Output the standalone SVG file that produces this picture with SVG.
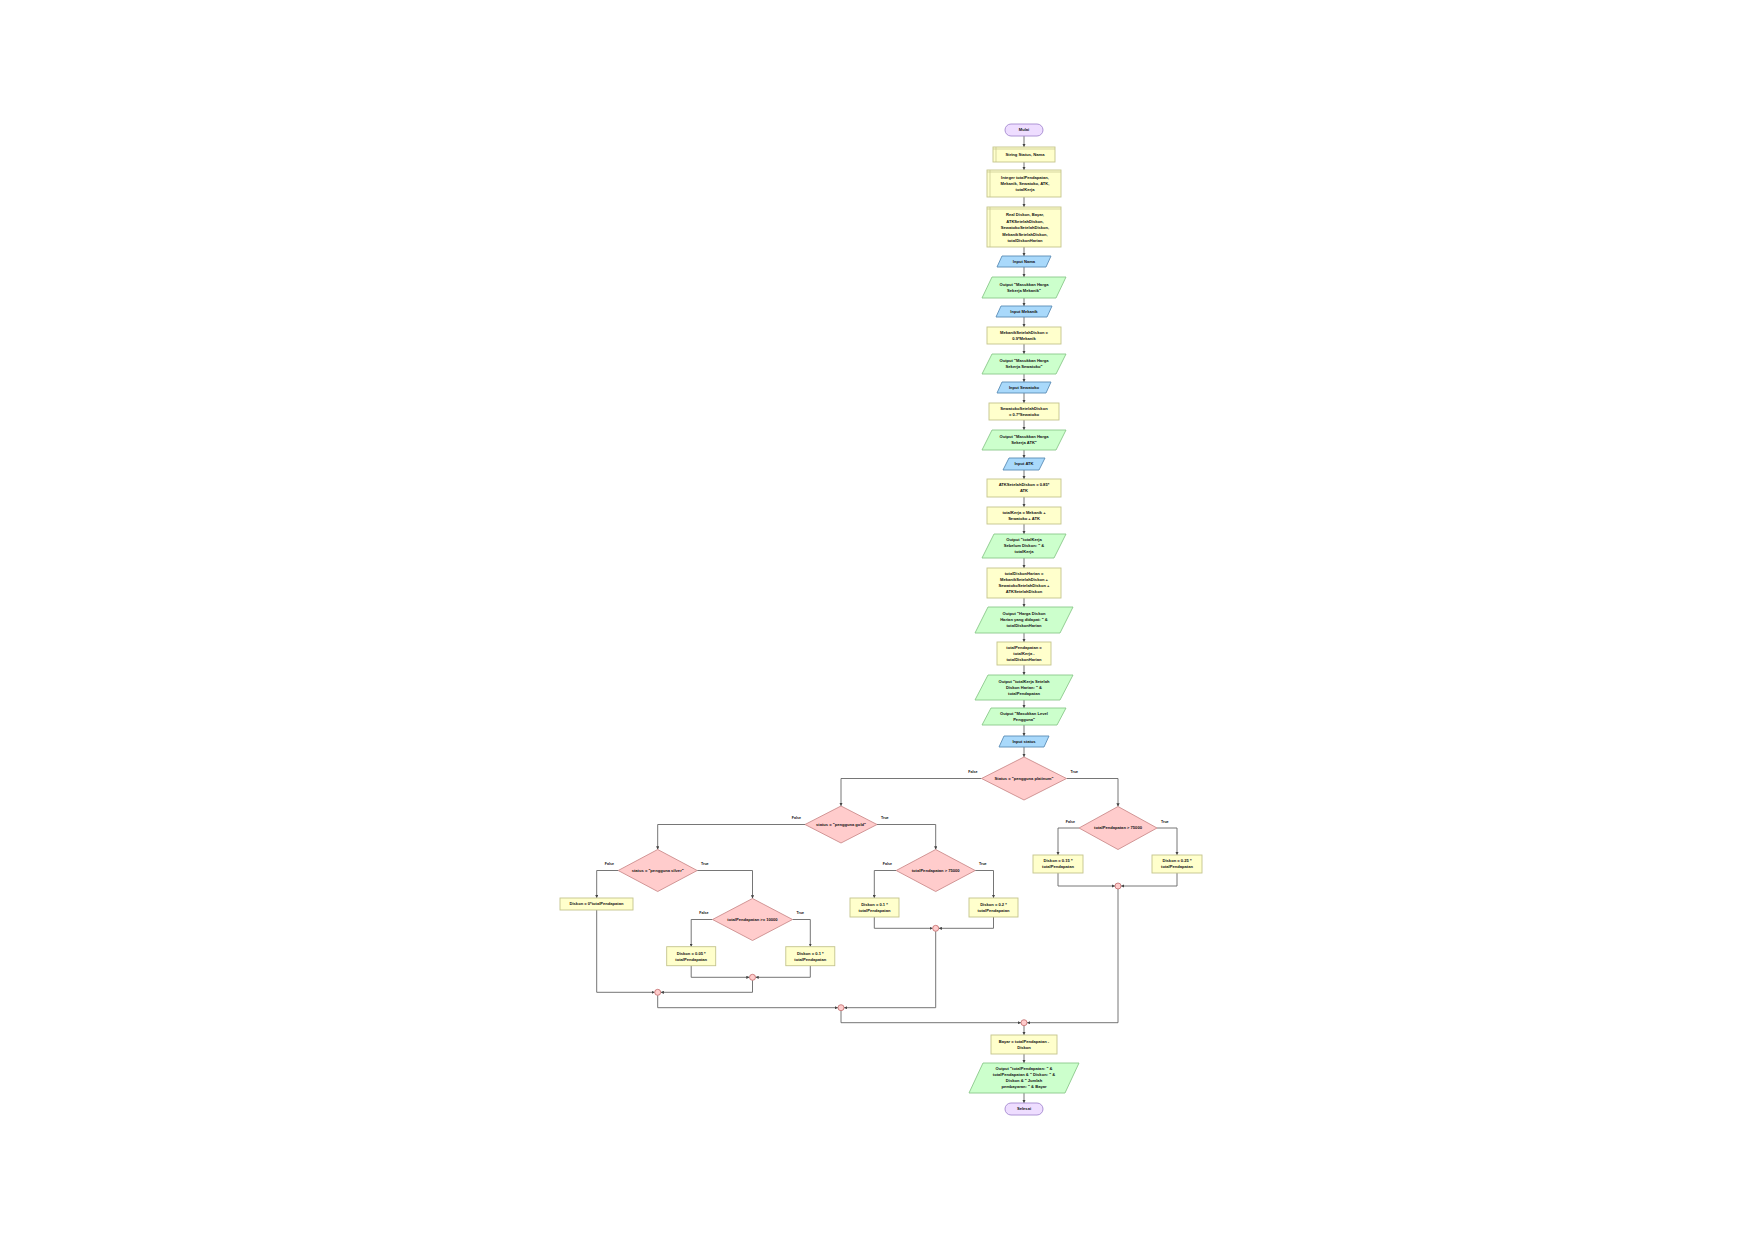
<svg xmlns="http://www.w3.org/2000/svg" width="1755" height="1241" viewBox="0 0 1755 1241">
<defs>
<marker id="a" viewBox="0 0 6 6" markerWidth="3.2" markerHeight="3.2" refX="6" refY="3" orient="auto" markerUnits="userSpaceOnUse"><path d="M0,0 L6,3 L0,6 z" fill="#444"/></marker>
<style>
.p{fill:#ffffcc;stroke:#c4c48c;stroke-width:0.9}
.o{fill:#ccffcc;stroke:#8ac88a;stroke-width:0.9}
.i{fill:#a9d9fb;stroke:#5a8cb5;stroke-width:0.9}
.d{fill:#ffcccc;stroke:#cc8c8c;stroke-width:0.9}
.t{fill:#eeddff;stroke:#a58ad0;stroke-width:0.9}
.m{fill:#ffcccc;stroke:#c06a6a;stroke-width:0.8}
.in{fill:none;stroke:#c4c48c;stroke-width:0.7}
.c{fill:none;stroke:#666;stroke-width:0.9;marker-end:url(#a)}
.n{fill:none;stroke:#666;stroke-width:0.9}
text{font-family:"Liberation Sans",Arial,sans-serif;font-size:4.1px;font-weight:bold;fill:#111;text-anchor:middle}
.lb{font-size:3.6px}
.e{text-anchor:end}
.s{text-anchor:start}
</style>
</defs>
<rect width="1755" height="1241" fill="#fff"/>

<g id="connectors">
<path class="c" d="M1024,136 V147"/>
<path class="c" d="M1024,162 V170"/>
<path class="c" d="M1024,197 V207"/>
<path class="c" d="M1024,247 V256"/>
<path class="c" d="M1024,267 V277"/>
<path class="c" d="M1024,298 V306"/>
<path class="c" d="M1024,317 V327"/>
<path class="c" d="M1024,344 V354"/>
<path class="c" d="M1024,374 V382"/>
<path class="c" d="M1024,393 V403"/>
<path class="c" d="M1024,420 V430"/>
<path class="c" d="M1024,450 V458"/>
<path class="c" d="M1024,470 V479"/>
<path class="c" d="M1024,497 V507"/>
<path class="c" d="M1024,524 V534"/>
<path class="c" d="M1024,558 V568"/>
<path class="c" d="M1024,598 V607"/>
<path class="c" d="M1024,633 V642"/>
<path class="c" d="M1024,665 V675"/>
<path class="c" d="M1024,700 V708"/>
<path class="c" d="M1024,725 V736"/>
<path class="c" d="M1024,747 V757"/>
<path class="c" d="M981.5,778.5 H841 V806"/>
<path class="c" d="M1066.5,778.5 H1118 V806.5"/>
<path class="c" d="M1079,828 H1058 V855"/>
<path class="c" d="M1157,828 H1177 V855"/>
<path class="c" d="M1058,873 V886 H1115"/>
<path class="c" d="M1177,873 V886 H1121"/>
<path class="c" d="M1118,889 V1022.7 H1027"/>
<path class="c" d="M805,824.5 H657.7 V849.5"/>
<path class="c" d="M877,824.5 H935.7 V849.5"/>
<path class="c" d="M896.2,870.5 H874.3 V898"/>
<path class="c" d="M975.2,870.5 H993.5 V898"/>
<path class="c" d="M874.3,917 V928.3 H932.7"/>
<path class="c" d="M993.5,917 V928.3 H938.7"/>
<path class="c" d="M935.7,931.3 V1007.7 H844"/>
<path class="c" d="M618.2,870.5 H596.7 V898"/>
<path class="c" d="M697.2,870.5 H752.5 V898.5"/>
<path class="c" d="M712.5,919.5 H691.2 V946.7"/>
<path class="c" d="M792.5,919.5 H810.3 V946.7"/>
<path class="c" d="M691.2,965.7 V977.3 H749.5"/>
<path class="c" d="M810.3,965.7 V977.3 H755.5"/>
<path class="c" d="M752.5,980.3 V992.3 H660.7"/>
<path class="c" d="M596.7,910 V992.3 H654.7"/>
<path class="c" d="M657.7,995.3 V1007.7 H838"/>
<path class="c" d="M841,1010.7 V1022.7 H1021"/>
<path class="c" d="M1024,1025.7 V1035"/>
<path class="c" d="M1024,1054 V1063"/>
<path class="c" d="M1024,1093 V1103"/>
<text class="lb e" x="977.5" y="773">False</text>
<text class="lb s" x="1070.5" y="773">True</text>
<text class="lb e" x="801" y="819">False</text>
<text class="lb s" x="881" y="819">True</text>
<text class="lb e" x="892" y="865">False</text>
<text class="lb s" x="979" y="865">True</text>
<text class="lb e" x="1075" y="822.5">False</text>
<text class="lb s" x="1161" y="822.5">True</text>
<text class="lb e" x="614" y="865">False</text>
<text class="lb s" x="701" y="865">True</text>
<text class="lb e" x="708.5" y="914">False</text>
<text class="lb s" x="796.5" y="914">True</text>
</g>

<g id="n1"><rect class="t" x="1005" y="124" width="38" height="12" rx="6"/><text x="1024" y="131.45">Mulai</text></g>
<g id="n2"><rect class="p" x="993" y="147" width="62" height="15"/><path class="in" d="M996,147 V162 M993,149 H1055"/><text x="1025" y="156.45">String Status, Nama</text></g>
<g id="n3"><rect class="p" x="987" y="170" width="74" height="27"/><path class="in" d="M990,170 V197 M987,172 H1061"/><text x="1025" y="179.45">Integer totalPendapatan,</text><text x="1025" y="185.45">Mekanik, Sewatoko, ATK,</text><text x="1025" y="191.45">totalKerja</text></g>
<g id="n4"><rect class="p" x="987" y="207" width="74" height="40"/><path class="in" d="M990,207 V247 M987,209 H1061"/><text x="1025" y="216">Real Diskon, Bayar,</text><text x="1025" y="222.5">ATKSetelahDiskon,</text><text x="1025" y="229">SewatokoSetelahDiskon,</text><text x="1025" y="235.5">MekanikSetelahDiskon,</text><text x="1025" y="242">totalDiskonHarian</text></g>
<g id="n5"><path class="i" d="M1002,256 H1051 L1046,267 H997 Z"/><text x="1024" y="262.95">Input Nama</text></g>
<g id="n6"><path class="o" d="M992,277 H1066 L1056,298 H982 Z"/><text x="1024" y="285.95">Output "Masukkan Harga</text><text x="1024" y="291.95">Sekerja Mekanik"</text></g>
<g id="n7"><path class="i" d="M1001,306 H1052 L1047,317 H996 Z"/><text x="1024" y="312.95">Input Mekanik</text></g>
<g id="n8"><rect class="p" x="987" y="327" width="74" height="17"/><text x="1024" y="333.95">MekanikSetelahDiskon =</text><text x="1024" y="339.95">0.9*Mekanik</text></g>
<g id="n9"><path class="o" d="M992,354 H1066 L1056,374 H982 Z"/><text x="1024" y="362.45">Output "Masukkan Harga</text><text x="1024" y="368.45">Sekerja Sewatoko"</text></g>
<g id="n10"><path class="i" d="M1002,382 H1051 L1046,393 H997 Z"/><text x="1024" y="388.95">Input Sewatoko</text></g>
<g id="n11"><rect class="p" x="989" y="403" width="70" height="17"/><text x="1024" y="409.95">SewatokoSetelahDiskon</text><text x="1024" y="415.95">= 0.7*Sewatoko</text></g>
<g id="n12"><path class="o" d="M992,430 H1066 L1056,450 H982 Z"/><text x="1024" y="438.45">Output "Masukkan Harga</text><text x="1024" y="444.45">Sekerja ATK"</text></g>
<g id="n13"><path class="i" d="M1009,458 H1045 L1039,470 H1003 Z"/><text x="1024" y="465.45">Input ATK</text></g>
<g id="n14"><rect class="p" x="987" y="479" width="74" height="18"/><text x="1024" y="486.45">ATKSetelahDiskon = 0.85*</text><text x="1024" y="492.45">ATK</text></g>
<g id="n15"><rect class="p" x="987" y="507" width="74" height="17"/><text x="1024" y="513.95">totalKerja = Mekanik +</text><text x="1024" y="519.95">Sewatoko + ATK</text></g>
<g id="n16"><path class="o" d="M994,534 H1066 L1054,558 H982 Z"/><text x="1024" y="541.45">Output "totalKerja</text><text x="1024" y="547.45">Sebelum Diskon: " &amp;</text><text x="1024" y="553.45">totalKerja</text></g>
<g id="n17"><rect class="p" x="987" y="568" width="74" height="30"/><text x="1024" y="575.45">totalDiskonHarian =</text><text x="1024" y="581.45">MekanikSetelahDiskon +</text><text x="1024" y="587.45">SewatokoSetelahDiskon +</text><text x="1024" y="593.45">ATKSetelahDiskon</text></g>
<g id="n18"><path class="o" d="M988,607 H1073 L1060,633 H975 Z"/><text x="1024" y="615.45">Output "Harga Diskon</text><text x="1024" y="621.45">Harian yang didapat: " &amp;</text><text x="1024" y="627.45">totalDiskonHarian</text></g>
<g id="n19"><rect class="p" x="997" y="642" width="54" height="23"/><text x="1024" y="648.95">totalPendapatan =</text><text x="1024" y="654.95">totalKerja -</text><text x="1024" y="660.95">totalDiskonHarian</text></g>
<g id="n20"><path class="o" d="M988,675 H1073 L1060,700 H975 Z"/><text x="1024" y="682.95">Output "totalKerja Setelah</text><text x="1024" y="688.95">Diskon Harian: " &amp;</text><text x="1024" y="694.95">totalPendapatan</text></g>
<g id="n21"><path class="o" d="M991,708 H1066 L1057,725 H982 Z"/><text x="1024" y="714.95">Output "Masukkan Level</text><text x="1024" y="720.95">Pengguna"</text></g>
<g id="n22"><path class="i" d="M1004,736 H1049 L1044,747 H999 Z"/><text x="1024" y="742.95">Input status</text></g>
<g id="d1"><path class="d" d="M1024,757 L1066.5,778.5 L1024,800 L981.5,778.5 Z"/><text x="1024" y="779.95">Status = "pengguna platinum"</text></g>
<g id="d2"><path class="d" d="M841,806 L877,824.5 L841,843 L805,824.5 Z"/><text x="841" y="825.95">status = "pengguna gold"</text></g>
<g id="d3"><path class="d" d="M935.7,849.5 L975.2,870.5 L935.7,891.5 L896.2,870.5 Z"/><text x="935.7" y="871.95">totalPendapatan &gt; 75000</text></g>
<g id="d4"><path class="d" d="M1118,806.5 L1157,828 L1118,849.5 L1079,828 Z"/><text x="1118" y="829.45">totalPendapatan &gt; 75000</text></g>
<g id="d5"><path class="d" d="M657.7,849.5 L697.2,870.5 L657.7,891.5 L618.2,870.5 Z"/><text x="657.7" y="871.95">status = "pengguna silver"</text></g>
<g id="d6"><path class="d" d="M752.5,898.5 L792.5,919.5 L752.5,940.5 L712.5,919.5 Z"/><text x="752.5" y="920.95">totalPendapatan &gt;= 10000</text></g>
<g id="b4f"><rect class="p" x="1033" y="855" width="50" height="18"/><text x="1058" y="862.45">Diskon = 0.15 *</text><text x="1058" y="868.45">totalPendapatan</text></g>
<g id="b4t"><rect class="p" x="1152" y="855" width="50" height="18"/><text x="1177" y="862.45">Diskon = 0.25 *</text><text x="1177" y="868.45">totalPendapatan</text></g>
<g id="b3f"><rect class="p" x="850" y="898" width="49" height="19"/><text x="874.5" y="905.95">Diskon = 0.1 *</text><text x="874.5" y="911.95">totalPendapatan</text></g>
<g id="b3t"><rect class="p" x="969" y="898" width="49" height="19"/><text x="993.5" y="905.95">Diskon = 0.2 *</text><text x="993.5" y="911.95">totalPendapatan</text></g>
<g id="b5f"><rect class="p" x="560" y="898" width="73" height="12"/><text x="596.5" y="905.45">Diskon = 0*totalPendapatan</text></g>
<g id="b6f"><rect class="p" x="666.7" y="946.7" width="49" height="19"/><text x="691.2" y="954.65">Diskon = 0.05 *</text><text x="691.2" y="960.65">totalPendapatan</text></g>
<g id="b6t"><rect class="p" x="785.8" y="946.7" width="49" height="19"/><text x="810.3" y="954.65">Diskon = 0.1 *</text><text x="810.3" y="960.65">totalPendapatan</text></g>
<g id="m4"><circle class="m" cx="1118" cy="886" r="3"/></g>
<g id="m3"><circle class="m" cx="935.7" cy="928.3" r="3"/></g>
<g id="m6"><circle class="m" cx="752.5" cy="977.3" r="3"/></g>
<g id="m5"><circle class="m" cx="657.7" cy="992.3" r="3"/></g>
<g id="m2"><circle class="m" cx="841" cy="1007.7" r="3"/></g>
<g id="m1"><circle class="m" cx="1024" cy="1022.7" r="3"/></g>
<g id="n23"><rect class="p" x="991" y="1035" width="66" height="19"/><text x="1024" y="1042.95">Bayar = totalPendapatan -</text><text x="1024" y="1048.95">Diskon</text></g>
<g id="n24"><path class="o" d="M983,1063 H1079 L1065,1093 H969 Z"/><text x="1024" y="1070.45">Output "totalPendapatan: " &amp;</text><text x="1024" y="1076.45">totalPendapatan &amp; " Diskon: " &amp;</text><text x="1024" y="1082.45">Diskon &amp; " Jumlah</text><text x="1024" y="1088.45">pembayaran: " &amp; Bayar</text></g>
<g id="n25"><rect class="t" x="1005" y="1103" width="38" height="12" rx="6"/><text x="1024" y="1110.45">Selesai</text></g>
</svg>
